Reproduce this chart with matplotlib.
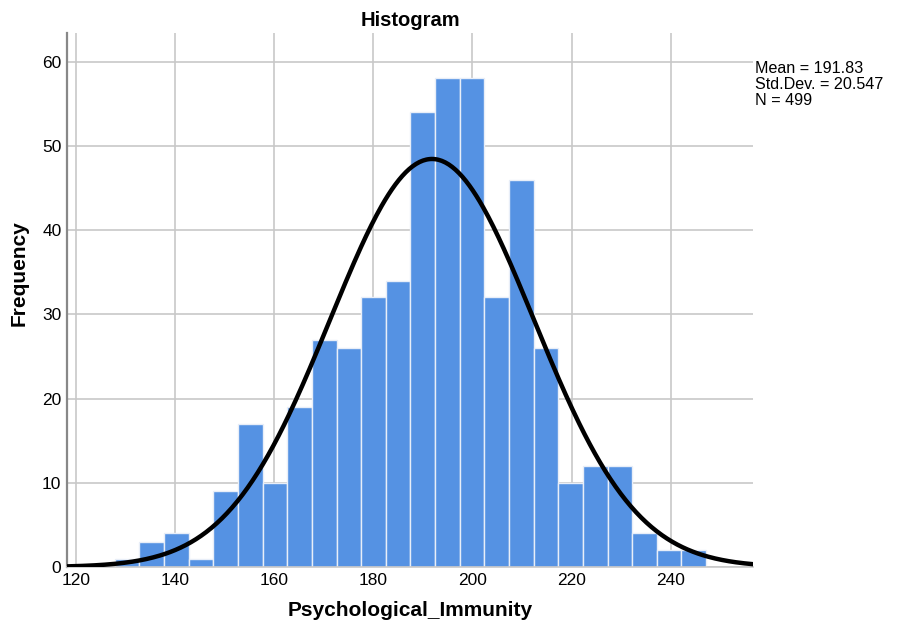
import matplotlib
matplotlib.use('Agg')
import matplotlib.pyplot as plt
import numpy as np

plt.rcParams['font.family'] = ['Liberation Sans', 'DejaVu Sans']

# histogram counts (24 bins)
counts = [1, 3, 4, 1, 9, 17, 10, 19, 27, 26, 32, 34,
          54, 58, 58, 32, 46, 26, 10, 12, 12, 4, 2, 2]
bin_start = 127.85
bin_width = 4.97
mean = 191.83
std = 20.547
n = 499

xticks = [120, 140, 160, 180, 200, 220, 240]
yticks = [0, 10, 20, 30, 40, 50, 60]

fig = plt.figure(figsize=(8.98, 6.26), dpi=100)
ax = fig.add_axes([0.0746, 0.0942, 0.7640, 0.8531])

edges = bin_start + bin_width * np.arange(len(counts))
ax.bar(edges, counts, width=bin_width, align='edge', color='#5592e3',
       edgecolor='#e8eef8', linewidth=1.0, zorder=2)

# normal curve scaled to counts (nominal bin width 5)
xs = np.linspace(118.2, 256.6, 400)
ys = n * 5 / (std * np.sqrt(2 * np.pi)) * np.exp(-0.5 * ((xs - mean) / std) ** 2)
ax.plot(xs, ys, color='black', linewidth=3.2, zorder=3)

ax.set_xlim(118.2, 256.6)
ax.set_ylim(0, 63.4)
ax.set_xticks(xticks)
ax.set_yticks(yticks)
ax.grid(True, color='#c8c8c8', linewidth=1.2, zorder=0)
ax.set_axisbelow(True)
ax.tick_params(length=0, labelsize=12.5, pad=4)

ax.spines['top'].set_visible(False)
ax.spines['right'].set_visible(False)
ax.spines['left'].set_color('#888888')
ax.spines['left'].set_linewidth(1.6)
ax.spines['bottom'].set_color('#c8c8c8')
ax.spines['bottom'].set_linewidth(1.2)

ax.set_title('Histogram', fontsize=14.5, fontweight='bold', pad=5)
ax.set_xlabel('Psychological_Immunity', fontsize=15, fontweight='bold', labelpad=10)
ax.set_ylabel('Frequency', fontsize=15, fontweight='bold')
ax.yaxis.set_label_coords(-0.056, 0.55)

fig.text(0.841, 0.903, 'Mean = %.2f\nStd.Dev. = %.3f\nN = %d' % (mean, std, n),
         fontsize=11.6, va='top', ha='left', linespacing=1.1)

fig.savefig('out.png', dpi=100)
